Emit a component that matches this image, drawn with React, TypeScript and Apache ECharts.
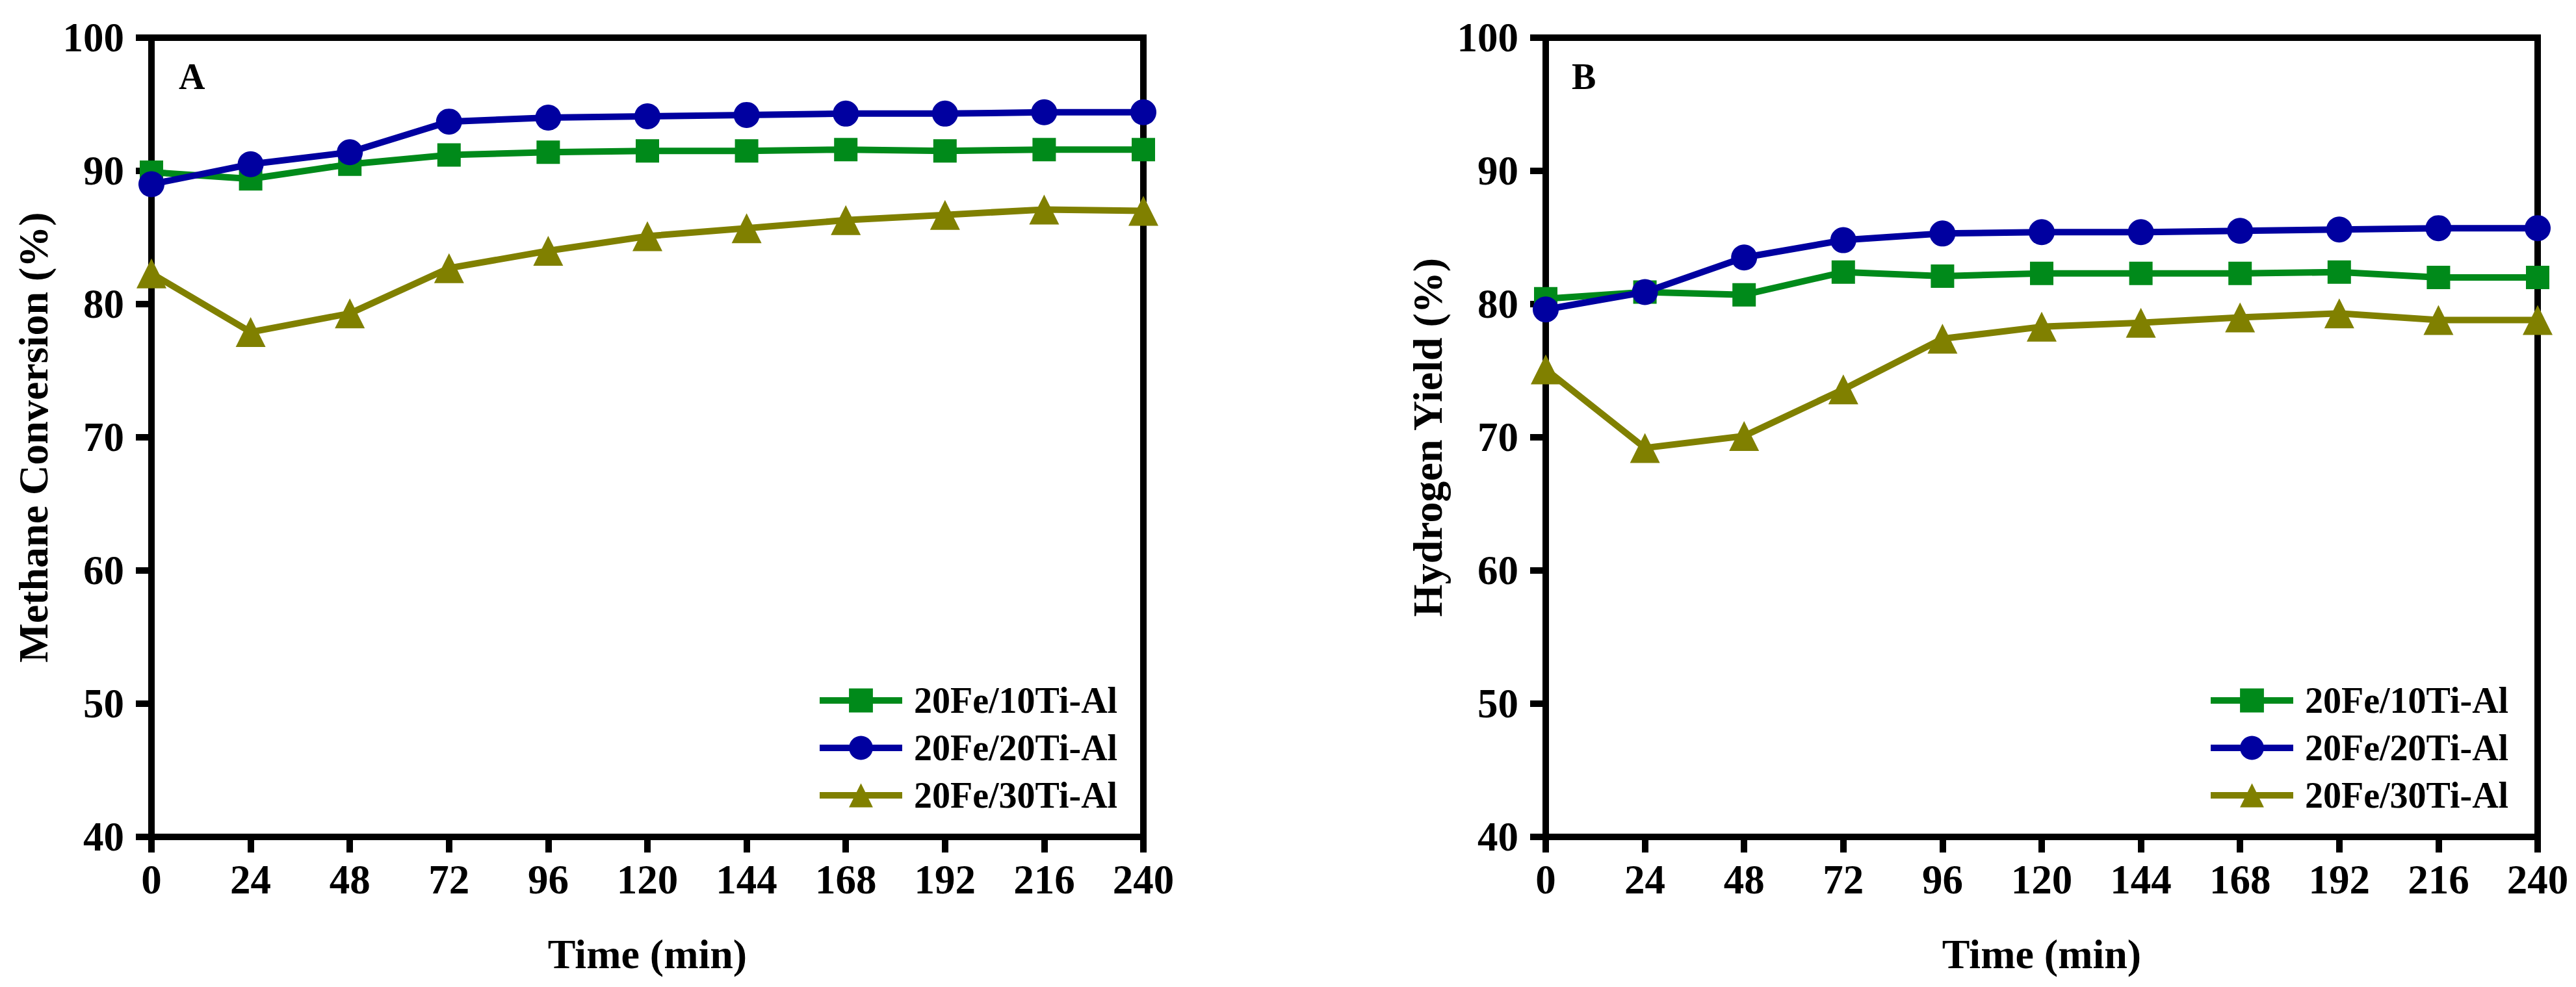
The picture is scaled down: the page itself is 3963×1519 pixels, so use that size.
import React, { useEffect, useRef } from "react";
import * as echarts from "echarts";

// x axis: time on stream (min)
const times = [0, 24, 48, 72, 96, 120, 144, 168, 192, 216, 240];
const seriesNames = ["20Fe/10Ti-Al", "20Fe/20Ti-Al", "20Fe/30Ti-Al"];
const yTicks = [40, 50, 60, 70, 80, 90, 100];

// Panel A - methane conversion (%)
const methane10Ti = [89.9, 89.4, 90.5, 91.2, 91.4, 91.5, 91.5, 91.6, 91.5, 91.6, 91.6];
const methane20Ti = [89.0, 90.5, 91.4, 93.7, 94.0, 94.1, 94.2, 94.3, 94.3, 94.4, 94.4];
const methane30Ti = [82.3, 77.9, 79.3, 82.7, 84.0, 85.1, 85.7, 86.3, 86.7, 87.1, 87.0];

// Panel B - hydrogen yield (%)
const hydrogen10Ti = [80.4, 80.9, 80.7, 82.4, 82.1, 82.3, 82.3, 82.3, 82.4, 82.0, 82.0];
const hydrogen20Ti = [79.6, 80.9, 83.5, 84.8, 85.3, 85.4, 85.4, 85.5, 85.6, 85.7, 85.7];
const hydrogen30Ti = [75.1, 69.2, 70.1, 73.6, 77.4, 78.3, 78.6, 79.0, 79.3, 78.8, 78.8];

const FONT = "'Liberation Serif', 'Times New Roman', serif";
const colors = ["#008a1a", "#0000a0", "#808000"];
const symbols = ["rect", "circle", "triangle"];
const symbolSizes = [36, 40, 46];

const panels = [
  {
    label: "A",
    yName: "Methane Conversion (%)",
    left: 233,
    legendLeft: 1256,
    data: [methane10Ti, methane20Ti, methane30Ti]
  },
  {
    label: "B",
    yName: "Hydrogen Yield (%)",
    left: 2378,
    legendLeft: 3396,
    data: [hydrogen10Ti, hydrogen20Ti, hydrogen30Ti]
  }
];

const App: React.FC = () => {
  const chartRef = useRef<HTMLDivElement>(null);

  useEffect(() => {
    document.body.style.margin = "0";
    const chart = echarts.init(chartRef.current!, null, { renderer: "svg" });

    const labelStyle = {
      color: "#000",
      fontFamily: FONT,
      fontWeight: "bold" as const,
      fontSize: 63
    };
    const lineBlack = { color: "#000", width: 10 };

    const option: echarts.EChartsOption = {
      animation: false,
      backgroundColor: "#fff",
      grid: panels.map((p) => ({
        left: p.left,
        top: 58,
        width: 1526,
        height: 1230,
        show: true,
        borderColor: "#000",
        borderWidth: 10
      })),
      xAxis: panels.map((_, i) => ({
        gridIndex: i,
        type: "value",
        min: times[0],
        max: times[times.length - 1],
        interval: 24,
        axisLine: { show: true, lineStyle: lineBlack },
        axisTick: { show: true, length: 24, lineStyle: lineBlack },
        splitLine: { show: false },
        axisLabel: { ...labelStyle, margin: 34 },
        name: "Time (min)",
        nameLocation: "middle",
        nameGap: 148,
        nameTextStyle: { ...labelStyle, fontSize: 64 }
      })),
      yAxis: panels.map((p, i) => ({
        gridIndex: i,
        type: "value",
        min: yTicks[0],
        max: yTicks[yTicks.length - 1],
        interval: 10,
        axisLine: { show: true, lineStyle: lineBlack },
        axisTick: { show: true, length: 24, lineStyle: lineBlack },
        splitLine: { show: false },
        axisLabel: { ...labelStyle, margin: 42 },
        name: p.yName,
        nameLocation: "middle",
        nameRotate: 90,
        nameGap: 150,
        nameTextStyle: { ...labelStyle, fontSize: 64 }
      })),
      legend: panels.map((p) => ({
        orient: "vertical",
        left: p.legendLeft,
        top: 1050,
        padding: 0,
        itemWidth: 127,
        itemHeight: 46,
        itemGap: 17,
        data: seriesNames,
        lineStyle: { width: 10 },
        textStyle: {
          color: "#000",
          fontFamily: FONT,
          fontWeight: "bold",
          fontSize: 56,
          padding: [0, 0, 0, 13]
        }
      })),
      graphic: panels.map((p) => ({
        type: "text",
        left: p.left + (p.label === "A" ? 42 : 40),
        top: 90,
        style: {
          text: p.label,
          fill: "#000",
          font: `bold 56px ${FONT}`
        }
      })),
      series: panels.flatMap((p, i) =>
        seriesNames.map((name, k) => ({
          type: "line",
          name,
          xAxisIndex: i,
          yAxisIndex: i,
          data: times.map((t, j) => [t, p.data[k][j]]),
          symbol: symbols[k],
          symbolSize: symbolSizes[k],
          itemStyle: { color: colors[k] },
          lineStyle: { color: colors[k], width: 10 },
          z: 3 + k
        }))
      )
    };

    chart.setOption(option);

    return () => {
      chart.dispose();
    };
  }, []);

  return <div ref={chartRef} style={{ width: "3963px", height: "1519px" }} />;
};

export default App;
